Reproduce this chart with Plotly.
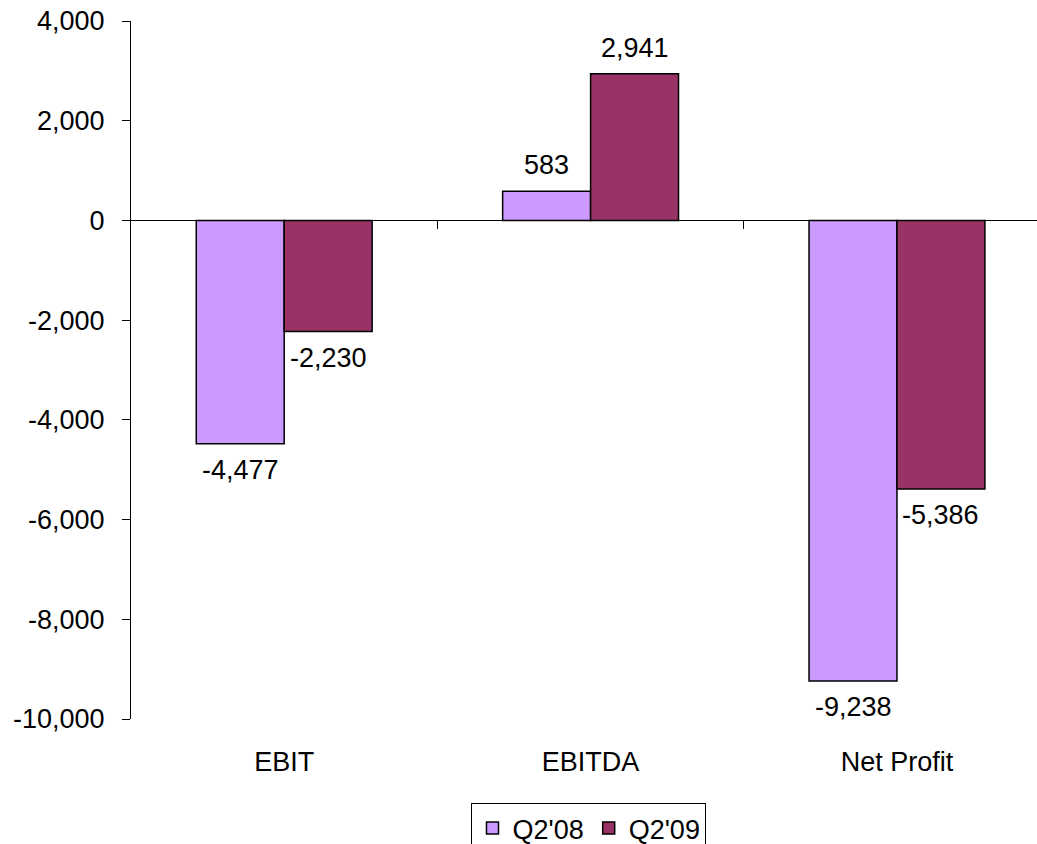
import plotly.graph_objects as go

categories = ["EBIT", "EBITDA", "Net Profit"]
q2_08 = [-4477, 583, -9238]
q2_09 = [-2230, 2941, -5386]
series_names = ["Q2'08", "Q2'09"]
y_tick_vals = [4000, 2000, 0, -2000, -4000, -6000, -8000, -10000]
y_tick_labels = ["4,000", "2,000", "0", "-2,000", "-4,000", "-6,000", "-8,000", "-10,000"]

FONT = "Liberation Sans, Arial, sans-serif"
FS = 27
colors = ["#CC99FF", "#993366"]
BARGAP = 0.426

fig = go.Figure()
for name, vals, col in zip(series_names, [q2_08, q2_09], colors):
    fig.add_trace(go.Bar(
        x=categories, y=vals, name=name,
        marker=dict(color=col, line=dict(color="black", width=1.5)),
        cliponaxis=False,
    ))
# helper trace so the zero-line axis exists
fig.add_trace(go.Scatter(x=[], y=[], xaxis="x2", showlegend=False, hoverinfo="skip"))

# value labels placed through the axes (category index +/- half bar width)
bar_w = (1 - BARGAP) / 2
for s, vals in enumerate([q2_08, q2_09]):
    off = (s - 0.5) * bar_w
    for i, v in enumerate(vals):
        fig.add_annotation(
            x=i + off, y=v, xref="x", yref="y", text=f"{v:,}", showarrow=False,
            yanchor="bottom" if v >= 0 else "top",
            yshift=9 if v >= 0 else -9,
            font=dict(family=FONT, size=FS, color="black"),
        )

y_min, y_max = -10000, 4000
x_range = [-0.5, 2.457]

fig.update_layout(
    width=1037, height=844,
    margin=dict(l=131, r=0, t=21, b=125, autoexpand=False),
    paper_bgcolor="white", plot_bgcolor="white",
    font=dict(family=FONT, size=FS, color="black"),
    barmode="group", bargap=BARGAP, bargroupgap=0,
    showlegend=True,
    legend=dict(orientation="h", x=0.5055, xanchor="center", xref="paper",
                y=-0.1203, yanchor="top", bordercolor="black", borderwidth=1,
                font=dict(family=FONT, size=FS, color="black"),
                itemwidth=30, traceorder="normal"),
    xaxis=dict(range=x_range, showline=False, ticks="", showgrid=False,
               zeroline=False, ticklabelstandoff=24,
               tickfont=dict(family=FONT, size=FS, color="black")),
    xaxis2=dict(range=x_range, overlaying="x", anchor="free",
                position=(0 - y_min) / (y_max - y_min), side="bottom",
                showline=True, linecolor="black", linewidth=1,
                tickmode="array", tickvals=[0.5, 1.5], ticks="outside",
                ticklen=8, tickcolor="black", showticklabels=False,
                showgrid=False, zeroline=False),
    yaxis=dict(range=[y_min, y_max], tickmode="array", tickvals=y_tick_vals,
               ticktext=y_tick_labels, ticks="outside", ticklen=8,
               tickcolor="black", showline=True, linecolor="black",
               linewidth=1, showgrid=False, zeroline=False,
               ticklabelstandoff=12,
               tickfont=dict(family=FONT, size=FS, color="black")),
)

fig.write_html("out.html")
